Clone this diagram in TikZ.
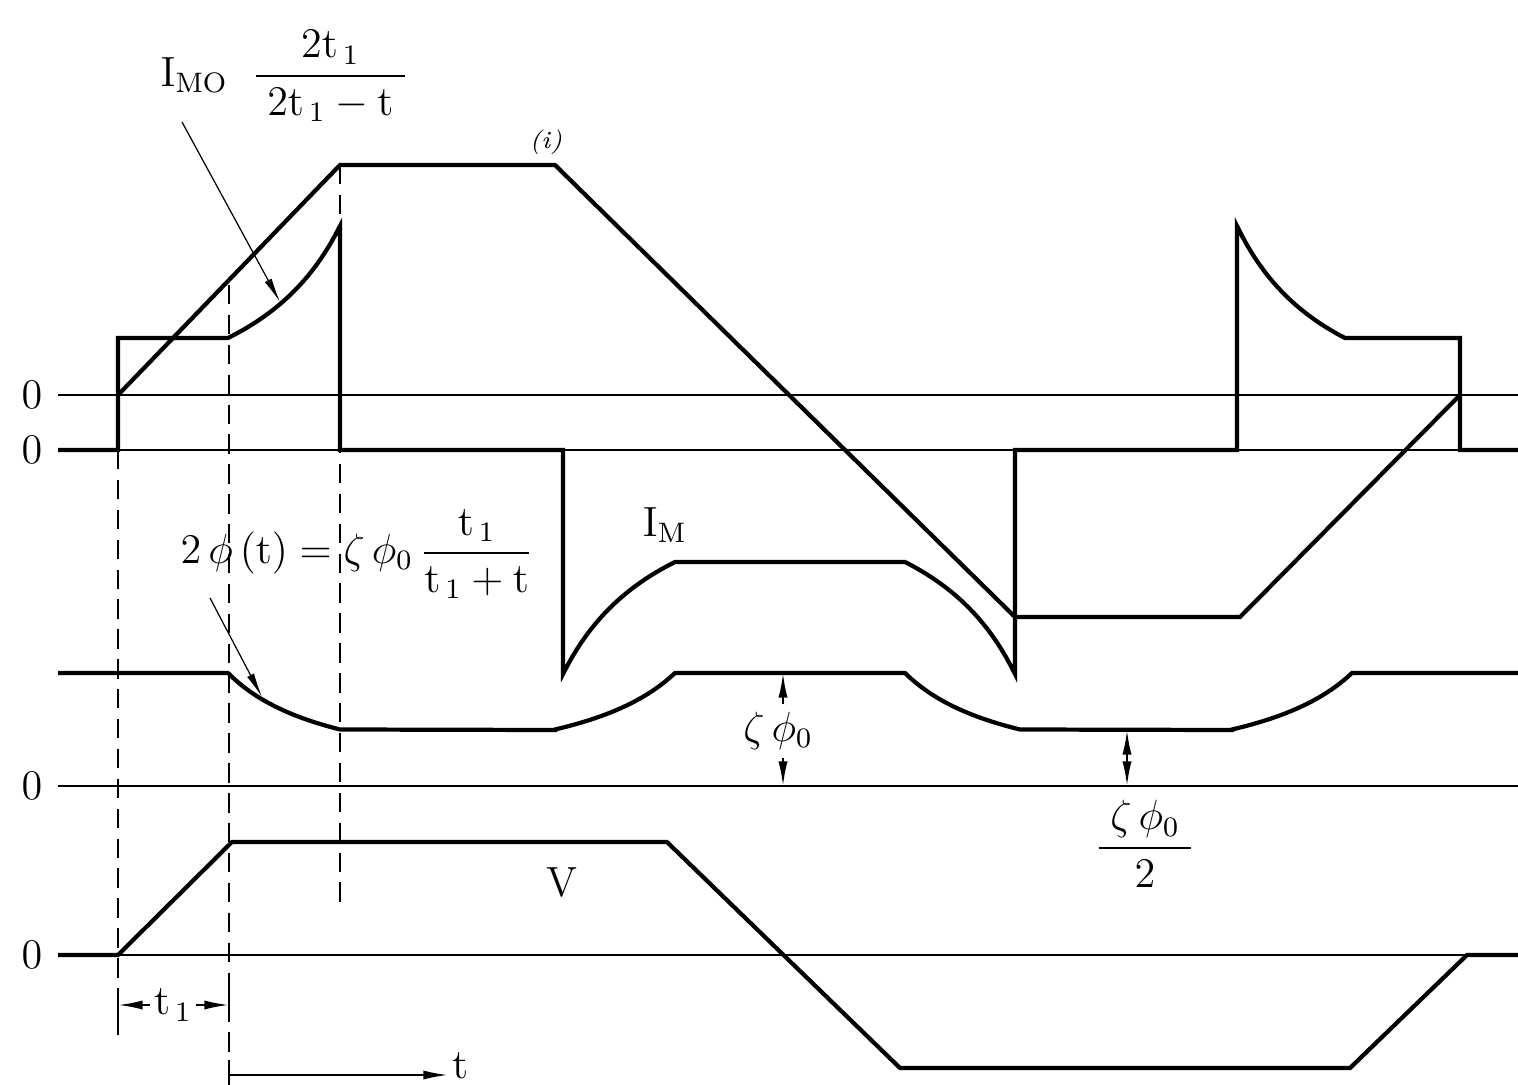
\documentclass[tikz,border=0pt]{standalone}
\usepackage{amsmath,amssymb}
\usepackage{tikz}
\usetikzlibrary{arrows,arrows.meta,calc,positioning}

\begin{document}
\begin{tikzpicture}[
    x=0.01cm, y=-0.01cm,
    font=\large,
    wave/.style={line width=1.2pt, line join=miter},
    axis/.style={line width=0.6pt},
    guide/.style={line width=0.7pt, dash pattern=on 5.5pt off 3pt},
    leader/.style={line width=0.35pt, -{Latex[length=7pt,width=2.2pt]}},
    dim/.style={line width=0.6pt, -{Latex[length=7pt,width=2.6pt]}},
    zero/.style={inner sep=0},
    lbl/.style={inner sep=1pt}]

\useasboundingbox (0,0) rectangle (1518,1085);

\foreach \yy/\nm in {395/A, 450/B, 786/C, 955/D}{
  \node[zero] (zero\nm) at (32,\yy) {$0$};
  \path[draw, axis] (58,\yy) -- (1518,\yy);
}

\path[draw, guide] (118,450) -- (118,1035);
\path[draw, guide] (229,285) -- (229,1085);
\path[draw, guide] (340,165) -- (340,905);

\path[draw, wave] (118,395) -- (340,165) -- (555,165) -- (1015,617) -- (1240,617) -- (1460,395);

\path[draw, wave] (58,450) -- (118,450) -- (118,338) -- (228,338)
  -- plot[domain=0:1, samples=25] ({228+112*\x},{450-224/(2-\x)})
  -- (340,450) -- (563,450) -- (563,674)
  -- plot[domain=0:1, samples=25] ({563+112*\x},{450+224/(1+\x)})
  -- (905,562)
  -- plot[domain=0:1, samples=25] ({905+110*\x},{450+224/(2-\x)})
  -- (1015,450) -- (1237,450) -- (1237,226)
  -- plot[domain=0:1, samples=25] ({1237+108*\x},{450-224/(1+\x)})
  -- (1460,338) -- (1460,450) -- (1518,450);

\path[draw, wave] (58,673) -- (228,673)
  -- plot[domain=0:1, samples=25] ({228+112*\x},{786-113/(1+\x)})
  -- (555,730)
  -- plot[domain=0:1, samples=25] ({555+120*\x},{786-113/(2-\x)})
  -- (905,673)
  -- plot[domain=0:1, samples=25] ({905+115*\x},{786-113/(1+\x)})
  -- (1232,730)
  -- plot[domain=0:1, samples=25] ({1232+120*\x},{786-113/(2-\x)})
  -- (1518,673);

\path[draw, wave] (58,955) -- (118,955) -- (232,842) -- (667,842) -- (900,1068) -- (1350,1068) -- (1467,955) -- (1518,955);

\node[lbl] (imoLbl) at (285,76) {$\mathrm{I}_{\mathrm{MO}}\;\;\dfrac{\;2\mathrm{t}_{\,1}\;}{\;2\mathrm{t}_{\,1}-\mathrm{t}\;}$};
\coordinate (imoFoot) at (182,122);
\coordinate (imoTip) at (280,302);
\path[draw, leader] (imoFoot) -- (imoTip);

\node[lbl] (phiLbl) at (357,554) {$2\,\phi\,(\mathrm{t})=\zeta\,\phi_0\,\dfrac{\mathrm{t}_{\,1}}{\mathrm{t}_{\,1}+\mathrm{t}}$};
\coordinate (phiFoot) at (210,598);
\coordinate (phiTip) at (262,697);
\path[draw, leader] (phiFoot) -- (phiTip);

\node[lbl] (imLbl) at (665,525) {$\mathrm{I}_{\mathrm{M}}$};
\node[lbl, font=\scriptsize\itshape] (omLbl) at (546,142) {(i)};
\node[lbl] (vLbl) at (562,882) {$\mathrm{V}$};

\node[lbl] (zetaLbl) at (778,731) {$\zeta\,\phi_0$};
\coordinate (zetaTop) at (783,673);
\coordinate (zetaBot) at (783,786);
\path[draw, dim] (783,704) -- (zetaTop);
\path[draw, dim] (783,758) -- (zetaBot);

\coordinate (halfTop) at (1127,730);
\coordinate (halfBot) at (1127,786);
\path[draw, line width=0.6pt, {Latex[length=7pt,width=2.6pt]}-{Latex[length=7pt,width=2.6pt]}] (halfTop) -- (halfBot);
\node[lbl] (halfLbl) at (1145,844) {$\dfrac{\;\zeta\,\phi_0\;}{2}$};

\node[lbl] (tOneLbl) at (173,1005) {$\mathrm{t}_{\,1}$};
\coordinate (tOneA) at (118,1005);
\coordinate (tOneB) at (229,1005);
\path[draw, dim] (tOneLbl.west) -- (tOneA);
\path[draw, dim] (tOneLbl.east) -- (tOneB);
\path[draw, axis] (118,992) -- (118,1020);
\path[draw, axis] (229,992) -- (229,1020);

\node[lbl, anchor=west] (tLbl) at (448,1066) {$\mathrm{t}$};
\coordinate (tStart) at (229,1075);
\path[draw, dim] (tStart) -- (tLbl.west |- tStart);
\path[draw, axis] (229,1060) -- (229,1085);

\end{tikzpicture}
\end{document}
